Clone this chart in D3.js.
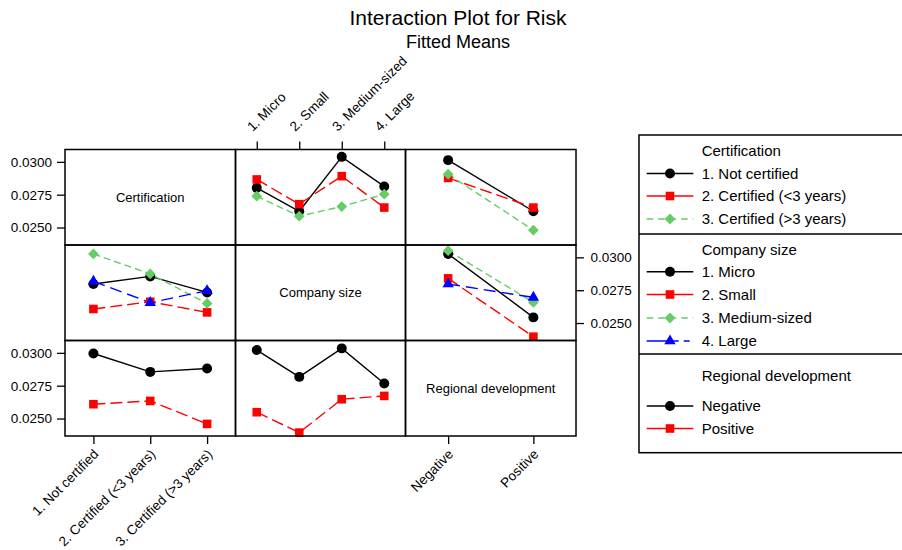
<!DOCTYPE html>
<html>
<head>
<meta charset="utf-8">
<script src="https://cdn.jsdelivr.net/npm/d3@7.9.0/dist/d3.min.js"></script>
<style>
  body { margin: 0; background: #fff; }
  svg { display: block; font-family: "Liberation Sans", Arial, Helvetica, sans-serif; }
  text { fill: #000; }
</style>
</head>
<body>
<div id="chart"></div>
<script>
// factor levels
const certLevels = ["1. Not certified", "2. Certified (<3 years)", "3. Certified (>3 years)"];
const sizeLevels = ["1. Micro", "2. Small", "3. Medium-sized", "4. Large"];
const regionLevels = ["Negative", "Positive"];
const yTicks = [0.0250, 0.0275, 0.0300];

// fitted means, one array per trace line
const certBySize = [
    [0.02802, 0.02624, 0.03038, 0.02813],
    [0.02866, 0.02678, 0.02891, 0.02652],
    [0.02739, 0.02586, 0.02660, 0.02754]
];
const certByRegion = [
    [0.03013, 0.02624],
    [0.02878, 0.02652],
    [0.02906, 0.02480]
];
const sizeByCert = [
    [0.02797, 0.02855, 0.02733],
    [0.02607, 0.02662, 0.02581],
    [0.03026, 0.02874, 0.02649],
    [0.02817, 0.02655, 0.02746]
];
const sizeByRegion = [
    [0.03026, 0.02543],
    [0.02840, 0.02396],
    [0.03051, 0.02657],
    [0.02797, 0.02695]
];
const regionByCert = [
    [0.02995, 0.02855, 0.02881],
    [0.02609, 0.02634, 0.02459]
];
const regionBySize = [
    [0.03021, 0.02817, 0.03034, 0.02767],
    [0.02548, 0.02393, 0.02647, 0.02672]
];

const factorNames = ["Certification", "Company size", "Regional development"];

// line / marker styles for trace 1..4
const styles = [
    { color: "#000000", dash: null, shape: "circle" },
    { color: "#ff0000", dash: "12,5", shape: "square" },
    { color: "#66cc66", dash: "7,4", shape: "diamond" },
    { color: "#0000ff", dash: "12,6", shape: "triangle" }
];

const width = 902, height = 550;
const colX = [65, 235.5, 405.5, 576];
const rowY = [149.5, 245, 340.5, 436];

const svg = d3.select("#chart").append("svg")
    .attr("width", width)
    .attr("height", height);

// titles
svg.append("text")
    .attr("x", 458).attr("y", 25)
    .attr("text-anchor", "middle")
    .style("font-size", "21px")
    .text("Interaction Plot for Risk");
svg.append("text")
    .attr("x", 458).attr("y", 48)
    .attr("text-anchor", "middle")
    .style("font-size", "18px")
    .text("Fitted Means");

function drawSymbol(g, shape, color, cx, cy) {
    let path;
    if (shape === "circle") path = d3.symbol(d3.symbolCircle, 78)();
    else if (shape === "square") path = d3.symbol(d3.symbolSquare, 74)();
    else if (shape === "diamond") path = d3.symbol(d3.symbolSquare, 58)();
    else path = d3.symbol(d3.symbolTriangle, 56)();
    g.append("path")
        .attr("d", path)
        .attr("fill", color)
        .attr("transform", `translate(${cx},${cy})` + (shape === "diamond" ? " rotate(45)" : ""));
}

// y scale per row
function yScaleFor(row) {
    return d3.scaleLinear()
        .domain([0.02367, 0.03094])
        .range([rowY[row + 1], rowY[row]]);
}
function xScaleFor(col, levels) {
    return d3.scalePoint()
        .domain(levels)
        .range([colX[col], colX[col + 1]])
        .padding(0.5);
}

const panels = [
    { row: 0, col: 1, levels: sizeLevels, series: certBySize },
    { row: 0, col: 2, levels: regionLevels, series: certByRegion },
    { row: 1, col: 0, levels: certLevels, series: sizeByCert },
    { row: 1, col: 2, levels: regionLevels, series: sizeByRegion },
    { row: 2, col: 0, levels: certLevels, series: regionByCert },
    { row: 2, col: 1, levels: sizeLevels, series: regionBySize }
];

const plot = svg.append("g");

panels.forEach(p => {
    const x = xScaleFor(p.col, p.levels);
    const y = yScaleFor(p.row);
    const line = d3.line()
        .x((d, k) => x(p.levels[k]))
        .y(d => y(d));
    p.series.forEach((vals, s) => {
        const st = styles[s];
        plot.append("path")
            .attr("d", line(vals))
            .attr("fill", "none")
            .attr("stroke", st.color)
            .attr("stroke-width", 1.4)
            .attr("stroke-dasharray", st.dash);
    });
    p.series.forEach((vals, s) => {
        const st = styles[s];
        vals.forEach((v, k) => drawSymbol(plot, st.shape, st.color, x(p.levels[k]), y(v)));
    });
});

// panel borders
for (let r = 0; r < 3; r++) {
    for (let c = 0; c < 3; c++) {
        svg.append("rect")
            .attr("x", colX[c]).attr("y", rowY[r])
            .attr("width", colX[c + 1] - colX[c])
            .attr("height", rowY[r + 1] - rowY[r])
            .attr("fill", "none")
            .attr("stroke", "#000")
            .attr("stroke-width", 1.5);
    }
}

// diagonal labels
factorNames.forEach((name, i) => {
    svg.append("text")
        .attr("x", (colX[i] + colX[i + 1]) / 2)
        .attr("y", (rowY[i] + rowY[i + 1]) / 2)
        .attr("dy", "0.35em")
        .attr("text-anchor", "middle")
        .style("font-size", "13px")
        .text(name);
});

function styleAxis(g) {
    g.select(".domain").remove();
    g.selectAll(".tick line").attr("stroke-width", 1.3);
    g.selectAll("text").style("font-size", "13.5px").attr("fill", "#000")
        .style("font-family", "'Liberation Sans', Arial, Helvetica, sans-serif");
}

// y axes
[0, 2].forEach(r => {
    svg.append("g")
        .attr("transform", `translate(${colX[0]},0)`)
        .call(d3.axisLeft(yScaleFor(r)).tickValues(yTicks).tickFormat(d3.format(".4f")).tickSize(8).tickPadding(5))
        .call(styleAxis);
});
svg.append("g")
    .attr("transform", `translate(${colX[3]},0)`)
    .call(d3.axisRight(yScaleFor(1)).tickValues(yTicks).tickFormat(d3.format(".4f")).tickSize(8).tickPadding(6.5))
    .call(styleAxis);

// top axis (company size)
const xTop = xScaleFor(1, sizeLevels);
svg.append("g")
    .attr("transform", `translate(0,${rowY[0]})`)
    .call(d3.axisTop(xTop).tickSize(8).tickFormat(""))
    .call(styleAxis);
sizeLevels.forEach(l => {
    svg.append("text")
        .attr("transform", `translate(${xTop(l) - 4},132) rotate(-45)`)
        .attr("text-anchor", "start")
        .attr("fill", "#000")
        .style("font-size", "13.5px")
        .text(l);
});

// bottom axes (certification, regional development)
[[0, certLevels], [2, regionLevels]].forEach(([c, levels]) => {
    const xb = xScaleFor(c, levels);
    svg.append("g")
        .attr("transform", `translate(0,${rowY[3]})`)
        .call(d3.axisBottom(xb).tickSize(8).tickFormat(""))
        .call(styleAxis);
    levels.forEach(l => {
        svg.append("text")
            .attr("transform", `translate(${xb(l) + 6},455) rotate(-45)`)
            .attr("text-anchor", "end")
            .attr("fill", "#000")
            .style("font-size", "13.5px")
            .text(l);
    });
});

// legend
const legend = svg.append("g");
const lx = 639;
legend.append("rect")
    .attr("x", lx).attr("y", 135)
    .attr("width", 280).attr("height", 317.7)
    .attr("fill", "none").attr("stroke", "#000").attr("stroke-width", 1.5);
[234, 354].forEach(yy => {
    legend.append("line")
        .attr("x1", lx).attr("x2", 910)
        .attr("y1", yy).attr("y2", yy)
        .attr("stroke", "#000").attr("stroke-width", 1.5);
});

const legendDash = [null, null, "6.5,5", "32,5,6,20"];
const legendGroups = [
    { title: factorNames[0], titleY: 156, items: certLevels, ys: [173.5, 196, 219] },
    { title: factorNames[1], titleY: 255, items: sizeLevels, ys: [271.7, 294.5, 318, 341] },
    { title: factorNames[2], titleY: 381, items: regionLevels, ys: [406, 428.5] }
];
legendGroups.forEach(grp => {
    legend.append("text")
        .attr("x", 701.7).attr("y", grp.titleY)
        .style("font-size", "15px")
        .text(grp.title);
    grp.items.forEach((item, k) => {
        const st = styles[k];
        const yy = grp.ys[k];
        legend.append("line")
            .attr("x1", 646.7).attr("x2", 693.3)
            .attr("y1", yy).attr("y2", yy)
            .attr("stroke", st.color)
            .attr("stroke-width", 1.4)
            .attr("stroke-dasharray", legendDash[k]);
        drawSymbol(legend, st.shape, st.color, 670, yy);
        legend.append("text")
            .attr("x", 701.7).attr("y", yy)
            .attr("dy", "0.35em")
            .style("font-size", "15px")
            .text(item);
    });
});
</script>
</body>
</html>
